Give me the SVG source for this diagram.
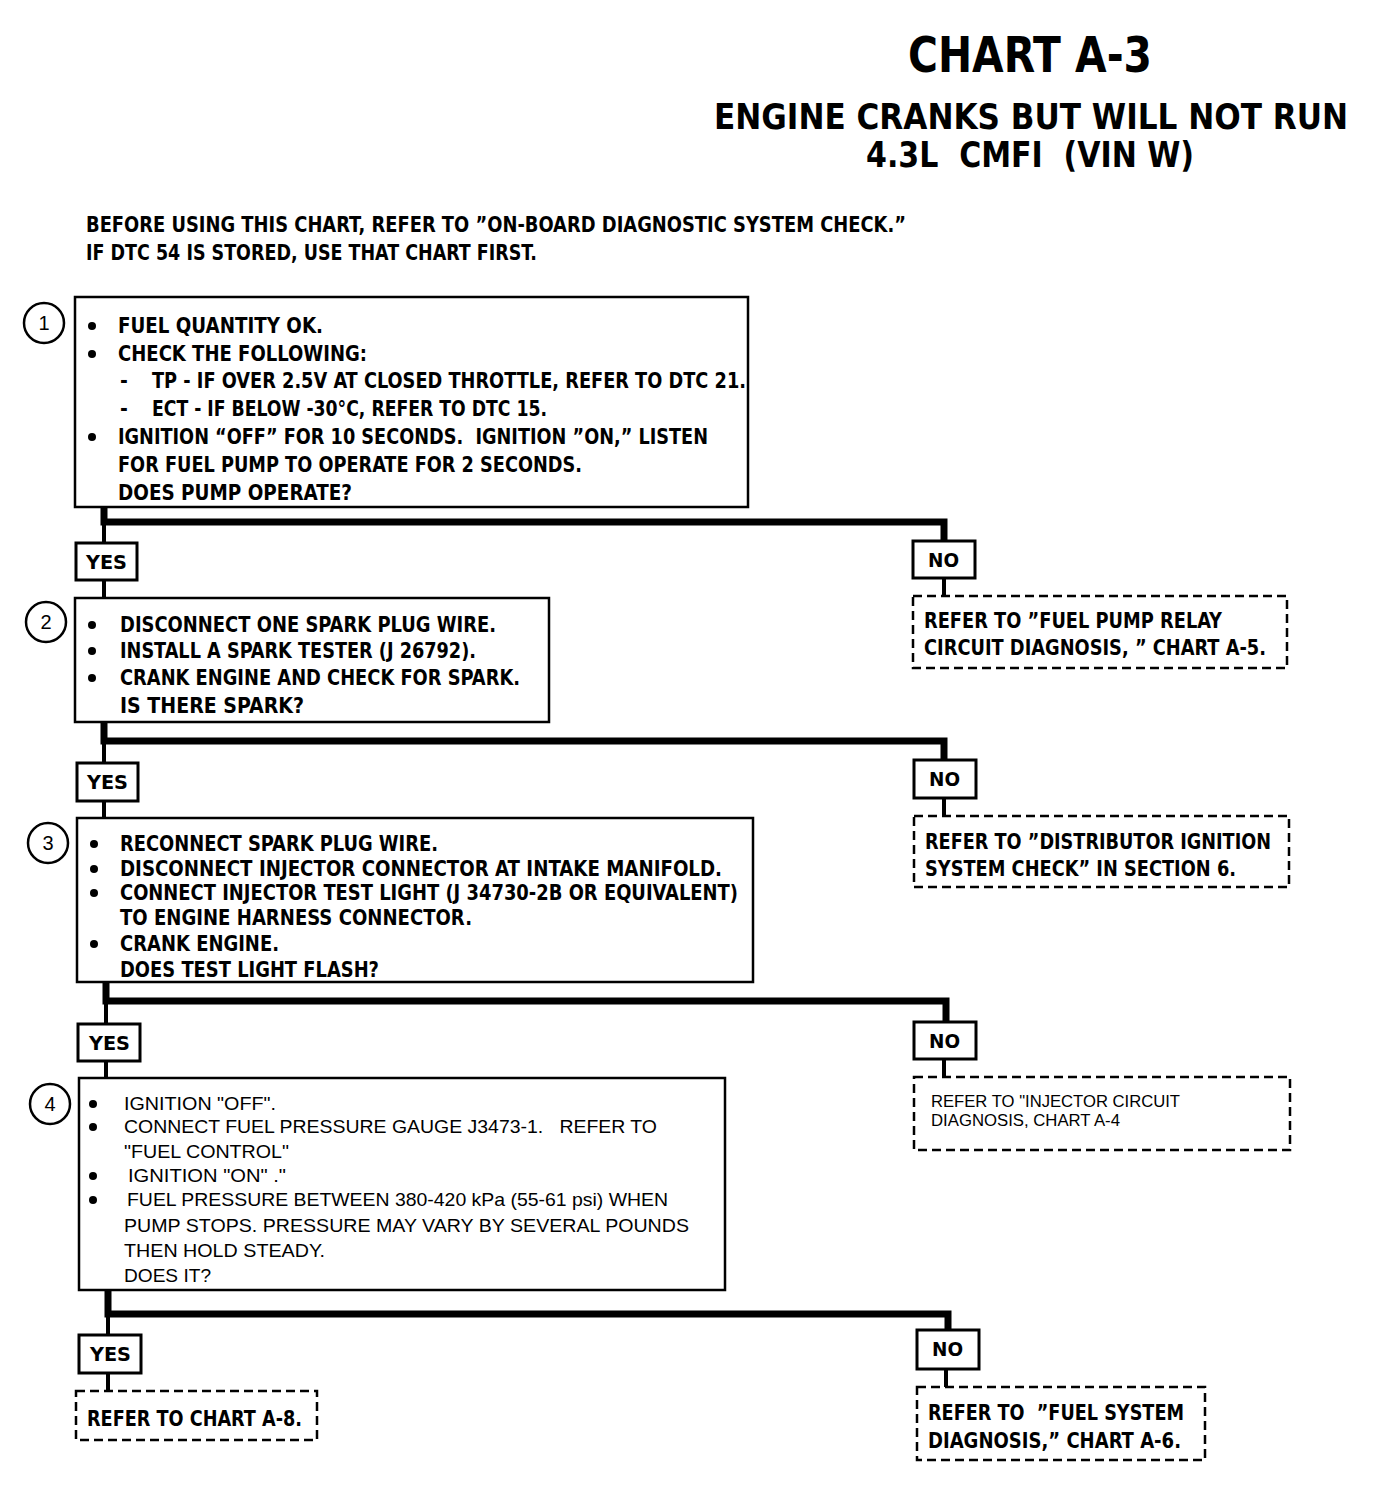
<svg xmlns="http://www.w3.org/2000/svg" width="1376" height="1508" viewBox="0 0 1376 1508">
<style>
text{lengthAdjust:spacingAndGlyphs}
.b{font-family:"DejaVu Sans Condensed","Liberation Sans",sans-serif;font-weight:bold;font-size:21px;fill:#000}
.r{font-family:"Liberation Sans",sans-serif;font-size:19px;fill:#000}
.s{font-family:"Liberation Sans",sans-serif;font-size:16px;fill:#000}
.t{font-family:"DejaVu Sans Condensed","Liberation Sans",sans-serif;font-weight:bold;fill:#000}
.box{fill:#fff;stroke:#000;stroke-width:2.5}
.dash{fill:#fff;stroke:#000;stroke-width:2.5;stroke-dasharray:9 5}
.lbl{fill:#fff;stroke:#000;stroke-width:3}
.c{fill:#fff;stroke:#000;stroke-width:2.5}
.cn{font-family:"Liberation Sans",sans-serif;font-size:20px;text-anchor:middle;fill:#000}
.yn{font-family:"DejaVu Sans Condensed","Liberation Sans",sans-serif;font-weight:bold;font-size:20px;fill:#000}
.thick{stroke:#000;stroke-width:7;fill:none}
.thin{stroke:#000;stroke-width:4;fill:none}
</style>
<rect width="1376" height="1508" fill="#fff"/>
<g id="title">
<text class="t" x="908" y="72" font-size="50" textLength="244" lengthAdjust="spacingAndGlyphs">CHART A-3</text>
<text class="t" x="714" y="129" font-size="36" textLength="634" lengthAdjust="spacingAndGlyphs">ENGINE CRANKS BUT WILL NOT RUN</text>
<text class="t" x="866" y="167" font-size="36" xml:space="preserve" textLength="328" lengthAdjust="spacingAndGlyphs">4.3L  CMFI  (VIN W)</text>
</g>
<g id="intro">
<text class="b" x="86" y="232" font-size="20" textLength="820" lengthAdjust="spacingAndGlyphs">BEFORE USING THIS CHART, REFER TO ”ON-BOARD DIAGNOSTIC SYSTEM CHECK.”</text>
<text class="b" x="86" y="260" font-size="20" textLength="451" lengthAdjust="spacingAndGlyphs">IF DTC 54 IS STORED, USE THAT CHART FIRST.</text>
</g>
<g id="connectors">
<path class="thick" d="M104 507 V522 H944 V541"/>
<path class="thin" d="M104 522 V543 M104 580 V598 M944 578 V596"/>
<path class="thick" d="M104 722 V741 H944 V760"/>
<path class="thin" d="M104 741 V763 M104 801 V818 M944 798 V816"/>
<path class="thick" d="M106 982 V1001 H946 V1022"/>
<path class="thin" d="M106 1001 V1024 M106 1061 V1078 M944 1059 V1077"/>
<path class="thick" d="M108 1290 V1314 H948 V1330"/>
<path class="thin" d="M108 1314 V1335 M108 1373 V1391 M946 1369 V1387"/>
</g>
<g id="node1">
<rect class="box" x="75" y="297" width="673" height="210"/>
<circle class="c" cx="44" cy="323" r="20"/><text class="cn" x="44" y="330">1</text>
<circle cx="92" cy="326" r="4"/><circle cx="92" cy="354" r="4"/><circle cx="92" cy="437" r="4"/>
<text class="b" x="118" y="333" textLength="205" lengthAdjust="spacingAndGlyphs">FUEL QUANTITY OK.</text>
<text class="b" x="118" y="361" textLength="249" lengthAdjust="spacingAndGlyphs">CHECK THE FOLLOWING:</text>
<text class="b" x="120" y="388">-</text><text class="b" x="152" y="388" textLength="594" lengthAdjust="spacingAndGlyphs">TP - IF OVER 2.5V AT CLOSED THROTTLE, REFER TO DTC 21.</text>
<text class="b" x="120" y="416">-</text><text class="b" x="152" y="416" textLength="395" lengthAdjust="spacingAndGlyphs">ECT - IF BELOW -30°C, REFER TO DTC 15.</text>
<text class="b" x="118" y="444" xml:space="preserve" textLength="590" lengthAdjust="spacingAndGlyphs">IGNITION “OFF” FOR 10 SECONDS.  IGNITION ”ON,” LISTEN</text>
<text class="b" x="118" y="472" textLength="464" lengthAdjust="spacingAndGlyphs">FOR FUEL PUMP TO OPERATE FOR 2 SECONDS.</text>
<text class="b" x="118" y="500" textLength="234" lengthAdjust="spacingAndGlyphs">DOES PUMP OPERATE?</text>
</g>
<g id="yes1"><rect class="lbl" x="76" y="543" width="61" height="37"/><text class="yn" x="86" y="569" textLength="41" lengthAdjust="spacingAndGlyphs">YES</text></g>
<g id="no1"><rect class="lbl" x="913" y="541" width="62" height="37"/><text class="yn" x="928" y="567" textLength="31" lengthAdjust="spacingAndGlyphs">NO</text></g>
<g id="ref1">
<rect class="dash" x="913" y="596" width="374" height="72"/>
<text class="b" x="924" y="628" textLength="298" lengthAdjust="spacingAndGlyphs">REFER TO ”FUEL PUMP RELAY</text>
<text class="b" x="924" y="655" textLength="342" lengthAdjust="spacingAndGlyphs">CIRCUIT DIAGNOSIS, ” CHART A-5.</text>
</g>
<g id="node2">
<rect class="box" x="75" y="598" width="474" height="124"/>
<circle class="c" cx="46" cy="622" r="20"/><text class="cn" x="46" y="629">2</text>
<circle cx="92" cy="625" r="4"/><circle cx="92" cy="651" r="4"/><circle cx="92" cy="678" r="4"/>
<text class="b" x="120" y="632" textLength="376" lengthAdjust="spacingAndGlyphs">DISCONNECT ONE SPARK PLUG WIRE.</text>
<text class="b" x="120" y="658" textLength="356" lengthAdjust="spacingAndGlyphs">INSTALL A SPARK TESTER (J 26792).</text>
<text class="b" x="120" y="685" textLength="400" lengthAdjust="spacingAndGlyphs">CRANK ENGINE AND CHECK FOR SPARK.</text>
<text class="b" x="120" y="713" textLength="184" lengthAdjust="spacingAndGlyphs">IS THERE SPARK?</text>
</g>
<g id="yes2"><rect class="lbl" x="77" y="763" width="61" height="38"/><text class="yn" x="87" y="789" textLength="41" lengthAdjust="spacingAndGlyphs">YES</text></g>
<g id="no2"><rect class="lbl" x="914" y="760" width="62" height="38"/><text class="yn" x="929" y="786" textLength="31" lengthAdjust="spacingAndGlyphs">NO</text></g>
<g id="ref2">
<rect class="dash" x="914" y="816" width="375" height="71"/>
<text class="b" x="925" y="849" textLength="346" lengthAdjust="spacingAndGlyphs">REFER TO ”DISTRIBUTOR IGNITION</text>
<text class="b" x="925" y="876" textLength="311" lengthAdjust="spacingAndGlyphs">SYSTEM CHECK” IN SECTION 6.</text>
</g>
<g id="node3">
<rect class="box" x="77" y="818" width="676" height="164"/>
<circle class="c" cx="48" cy="843" r="20"/><text class="cn" x="48" y="850">3</text>
<circle cx="94" cy="844" r="4"/><circle cx="94" cy="869" r="4"/><circle cx="94" cy="893" r="4"/><circle cx="94" cy="944" r="4"/>
<text class="b" x="120" y="851" textLength="318" lengthAdjust="spacingAndGlyphs">RECONNECT SPARK PLUG WIRE.</text>
<text class="b" x="120" y="876" textLength="602" lengthAdjust="spacingAndGlyphs">DISCONNECT INJECTOR CONNECTOR AT INTAKE MANIFOLD.</text>
<text class="b" x="120" y="900" textLength="618" lengthAdjust="spacingAndGlyphs">CONNECT INJECTOR TEST LIGHT (J 34730-2B OR EQUIVALENT)</text>
<text class="b" x="120" y="925" textLength="352" lengthAdjust="spacingAndGlyphs">TO ENGINE HARNESS CONNECTOR.</text>
<text class="b" x="120" y="951" textLength="159" lengthAdjust="spacingAndGlyphs">CRANK ENGINE.</text>
<text class="b" x="120" y="977" textLength="259" lengthAdjust="spacingAndGlyphs">DOES TEST LIGHT FLASH?</text>
</g>
<g id="yes3"><rect class="lbl" x="78" y="1024" width="62" height="37" stroke="#555"/><text class="yn" x="89" y="1050" fill="#555" textLength="41" lengthAdjust="spacingAndGlyphs">YES</text></g>
<g id="no3"><rect class="lbl" x="914" y="1022" width="62" height="37"/><text class="yn" x="929" y="1048" textLength="31" lengthAdjust="spacingAndGlyphs">NO</text></g>
<g id="ref3">
<rect class="dash" x="914" y="1077" width="376" height="73"/>
<text class="s" x="931" y="1107" textLength="249" lengthAdjust="spacingAndGlyphs">REFER TO "INJECTOR CIRCUIT</text>
<text class="s" x="931" y="1126" textLength="189" lengthAdjust="spacingAndGlyphs">DIAGNOSIS, CHART A-4</text>
</g>
<g id="node4">
<rect class="box" x="79" y="1078" width="646" height="212"/>
<circle class="c" cx="50" cy="1104" r="20"/><text class="cn" x="50" y="1111">4</text>
<circle cx="93" cy="1104" r="4"/><circle cx="93" cy="1127" r="4"/><circle cx="93" cy="1176" r="4"/><circle cx="93" cy="1200" r="4"/>
<text class="r" x="124" y="1110" textLength="152" lengthAdjust="spacingAndGlyphs">IGNITION "OFF".</text>
<text class="r" x="124" y="1133" xml:space="preserve" textLength="533" lengthAdjust="spacingAndGlyphs">CONNECT FUEL PRESSURE GAUGE J3473-1.   REFER TO</text>
<text class="r" x="124" y="1158" textLength="165" lengthAdjust="spacingAndGlyphs">"FUEL CONTROL"</text>
<text class="r" x="128" y="1182" textLength="158" lengthAdjust="spacingAndGlyphs">IGNITION "ON" ."</text>
<text class="r" x="127" y="1206" textLength="541" lengthAdjust="spacingAndGlyphs">FUEL PRESSURE BETWEEN 380-420 kPa (55-61 psi) WHEN</text>
<text class="r" x="124" y="1232" textLength="565" lengthAdjust="spacingAndGlyphs">PUMP STOPS. PRESSURE MAY VARY BY SEVERAL POUNDS</text>
<text class="r" x="124" y="1257" textLength="201" lengthAdjust="spacingAndGlyphs">THEN HOLD STEADY.</text>
<text class="r" x="124" y="1282" textLength="87" lengthAdjust="spacingAndGlyphs">DOES IT?</text>
</g>
<g id="yes4"><rect class="lbl" x="79" y="1335" width="62" height="38"/><text class="yn" x="90" y="1361" textLength="41" lengthAdjust="spacingAndGlyphs">YES</text></g>
<g id="no4"><rect class="lbl" x="917" y="1330" width="62" height="39"/><text class="yn" x="932" y="1356" textLength="31" lengthAdjust="spacingAndGlyphs">NO</text></g>
<g id="ref4">
<rect class="dash" x="76" y="1391" width="241" height="49"/>
<text class="b" x="87" y="1426" textLength="215" lengthAdjust="spacingAndGlyphs">REFER TO CHART A-8.</text>
</g>
<g id="ref5">
<rect class="dash" x="917" y="1387" width="288" height="73"/>
<text class="b" x="928" y="1420" xml:space="preserve" textLength="256" lengthAdjust="spacingAndGlyphs">REFER TO  ”FUEL SYSTEM</text>
<text class="b" x="928" y="1448" textLength="253" lengthAdjust="spacingAndGlyphs">DIAGNOSIS,” CHART A-6.</text>
</g>
</svg>
